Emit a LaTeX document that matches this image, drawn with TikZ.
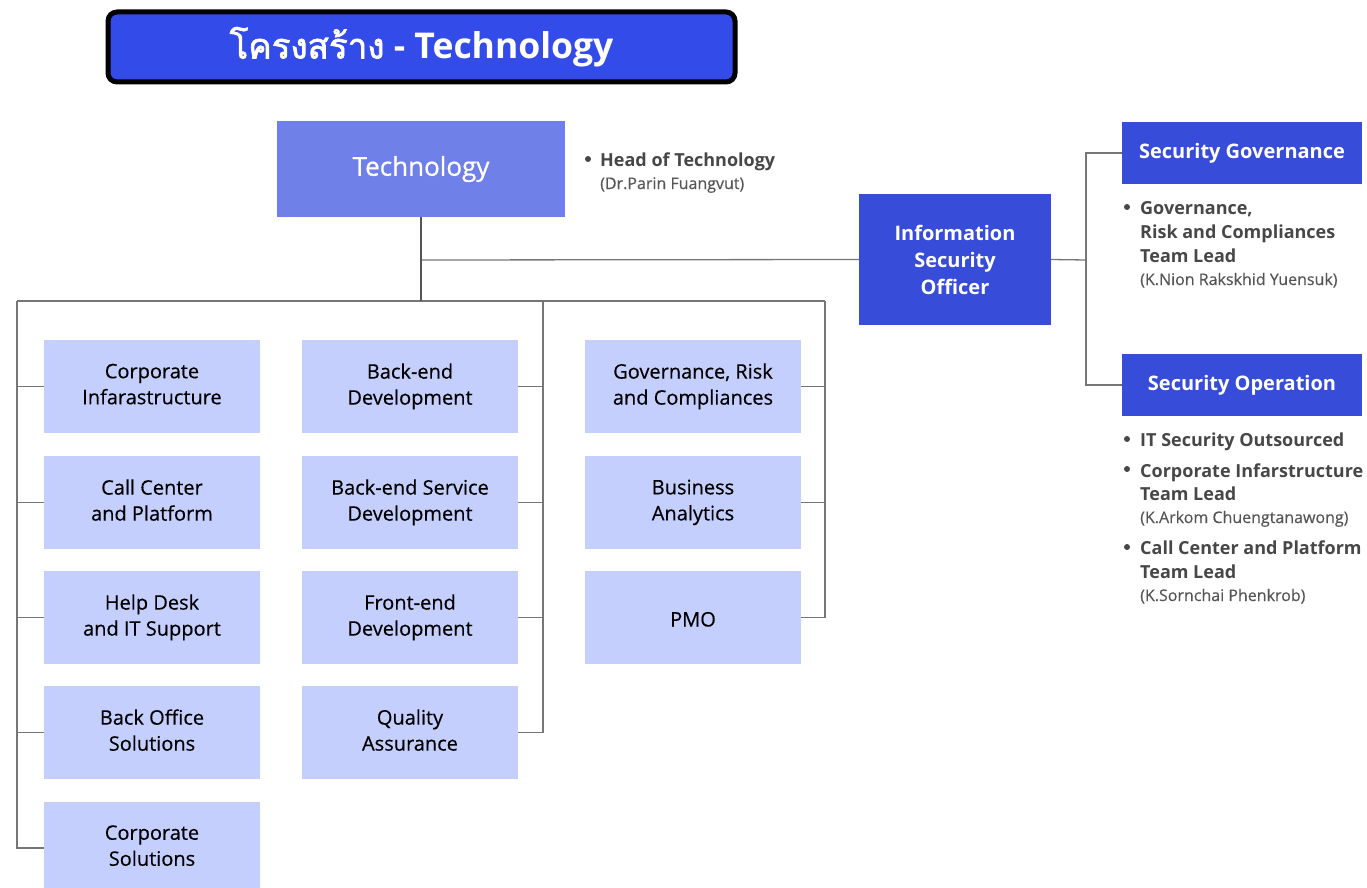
\documentclass[tikz,border=0pt]{standalone}
\usepackage{fontspec}
\setmainfont{Open Sans}
\newfontfamily\thaifont[Script=Thai, AutoFakeBold=2]{Loma}
\newfontfamily\medfont[FakeBold=0.8]{Open Sans}
\newfontfamily\bodyfont[FakeBold=0.35]{Open Sans}
\definecolor{titleblue}{HTML}{334BE8}
\definecolor{techblue}{HTML}{6F80E8}
\definecolor{secblue}{HTML}{374CD8}
\definecolor{lightblue}{HTML}{C5CFFD}
\definecolor{linegray}{HTML}{767676}
\definecolor{trunkgray}{HTML}{555555}
\definecolor{bulletgray}{HTML}{474747}
\definecolor{namegray}{HTML}{555555}
\tikzset{
  unitbox/.style={fill=lightblue, draw=none, minimum width=216, minimum height=93, align=center, inner sep=0,
    font=\bodyfont\fontsize{20}{26}\selectfont, text=black,
    execute at begin node={\rule{0pt}{23pt}}, execute at end node={\rule[-5pt]{0pt}{5pt}}},
  secbox/.style={fill=secblue, draw=none, align=center, inner sep=0, text=white,
    font=\bfseries\fontsize{20}{27}\selectfont},
  conn/.style={draw=linegray, line width=1.3},
  trunk/.style={draw=trunkgray, line width=2.8},
  bl/.style={anchor=base west, inner sep=0, text=bulletgray, font=\bfseries\fontsize{18}{22}\selectfont},
  nm/.style={anchor=base west, inner sep=0, text=namegray, font=\bodyfont\fontsize{16}{18}\selectfont},
  dot/.style={circle, fill=bulletgray, inner sep=0, minimum size=6},
}
\begin{document}
\begin{tikzpicture}[x=1pt,y=-1pt]
\useasboundingbox (0,0) rectangle (1367,888);
\clip (0,0) rectangle (1367,888);

% title
\node[fill=titleblue, draw=black, line width=5, rounded corners=9, minimum width=627, minimum height=70,
  inner sep=0, text=white, font=\bfseries\fontsize{35.5}{38}\selectfont] (title) at (421.5,47)
  {{\thaifont\bfseries\fontsize{35}{38}\selectfont โครงสร้าง} - Technology};

% top boxes
\node[fill=techblue, minimum width=288, minimum height=96, inner sep=0, text=white,
  font=\medfont\fontsize{26}{30}\selectfont] (tech) at (421,169) {Technology};
\node[secbox, minimum width=192, minimum height=131] (iso) at (955,259.5) {Information\\Security\\Officer};
\node[secbox, minimum width=240, minimum height=62] (sg) at (1242,153) {Security Governance};
\node[secbox, minimum width=240, minimum height=62] (so) at (1242,385) {Security Operation};

% head of technology
\node[dot] (d0) at (588,159) {};
\node[bl] (h0) at (600,166) {Head of Technology};
\node[nm] (h0n) at (600,189) {(Dr.Parin Fuangvut)};

% security governance bullet
\node[dot] (d1) at (1127,207) {};
\node[bl] (g1) at (1140,214) {Governance,};
\node[bl] (g2) at (1140,238) {Risk and Compliances};
\node[bl] (g3) at (1140,262) {Team Lead};
\node[nm] (g4) at (1140,285) {(K.Nion Rakskhid Yuensuk)};

% security operation bullets
\node[dot] (d2) at (1127,439) {};
\node[bl] (o1) at (1140,446) {IT Security Outsourced};
\node[dot] (d3) at (1127,469) {};
\node[bl] (o2) at (1140,477) {Corporate Infarstructure};
\node[bl] (o3) at (1140,500) {Team Lead};
\node[nm] (o4) at (1140,523) {(K.Arkom Chuengtanawong)};
\node[dot] (d4) at (1127,547) {};
\node[bl] (o5) at (1140,554) {Call Center and Platform};
\node[bl] (o6) at (1140,578) {Team Lead};
\node[nm] (o7) at (1140,601) {(K.Sornchai Phenkrob)};

% unit boxes
\node[unitbox] (a1) at (152,386.5) {Corporate\\Infarastructure};
\node[unitbox] (a2) at (152,502.5) {Call Center\\and Platform};
\node[unitbox] (a3) at (152,617.5) {Help Desk\\and IT Support};
\node[unitbox] (a4) at (152,732.5) {Back Office\\Solutions};
\node[unitbox] (a5) at (152,848) {Corporate\\Solutions};
\node[unitbox] (b1) at (410,386.5) {Back-end\\Development};
\node[unitbox] (b2) at (410,502.5) {Back-end Service\\Development};
\node[unitbox] (b3) at (410,617.5) {Front-end\\Development};
\node[unitbox] (b4) at (410,732.5) {Quality\\Assurance};
\node[unitbox] (c1) at (693,386.5) {Governance, Risk\\and Compliances};
\node[unitbox] (c2) at (693,502.5) {Business\\Analytics};
\node[unitbox] (c3) at (693,617.5) {PMO};

% coordinates for bus lines
\coordinate (j0) at (421,301);
\coordinate (j1) at (421,260);
\coordinate (L) at (17,301);
\coordinate (M) at (543,301);
\coordinate (R) at (825,301);
\coordinate (sx) at (1086,260);

% connectors
\draw[conn] (j1) -- (iso.west);
\draw[conn] (L) -- (R);
\draw[trunk] (tech.south) -- (j0);
\draw[conn] (iso.east) -- (sx);
\draw[conn] (sg.west) -| (sx) |- (so.west);
\foreach \n in {a1,a2,a3,a4,a5}{\draw[conn] (L) |- (\n.west);}
\foreach \n in {b1,b2,b3,b4}{\draw[conn] (M) |- (\n.east);}
\foreach \n in {c1,c2,c3}{\draw[conn] (R) |- (\n.east);}
\end{tikzpicture}
\end{document}
